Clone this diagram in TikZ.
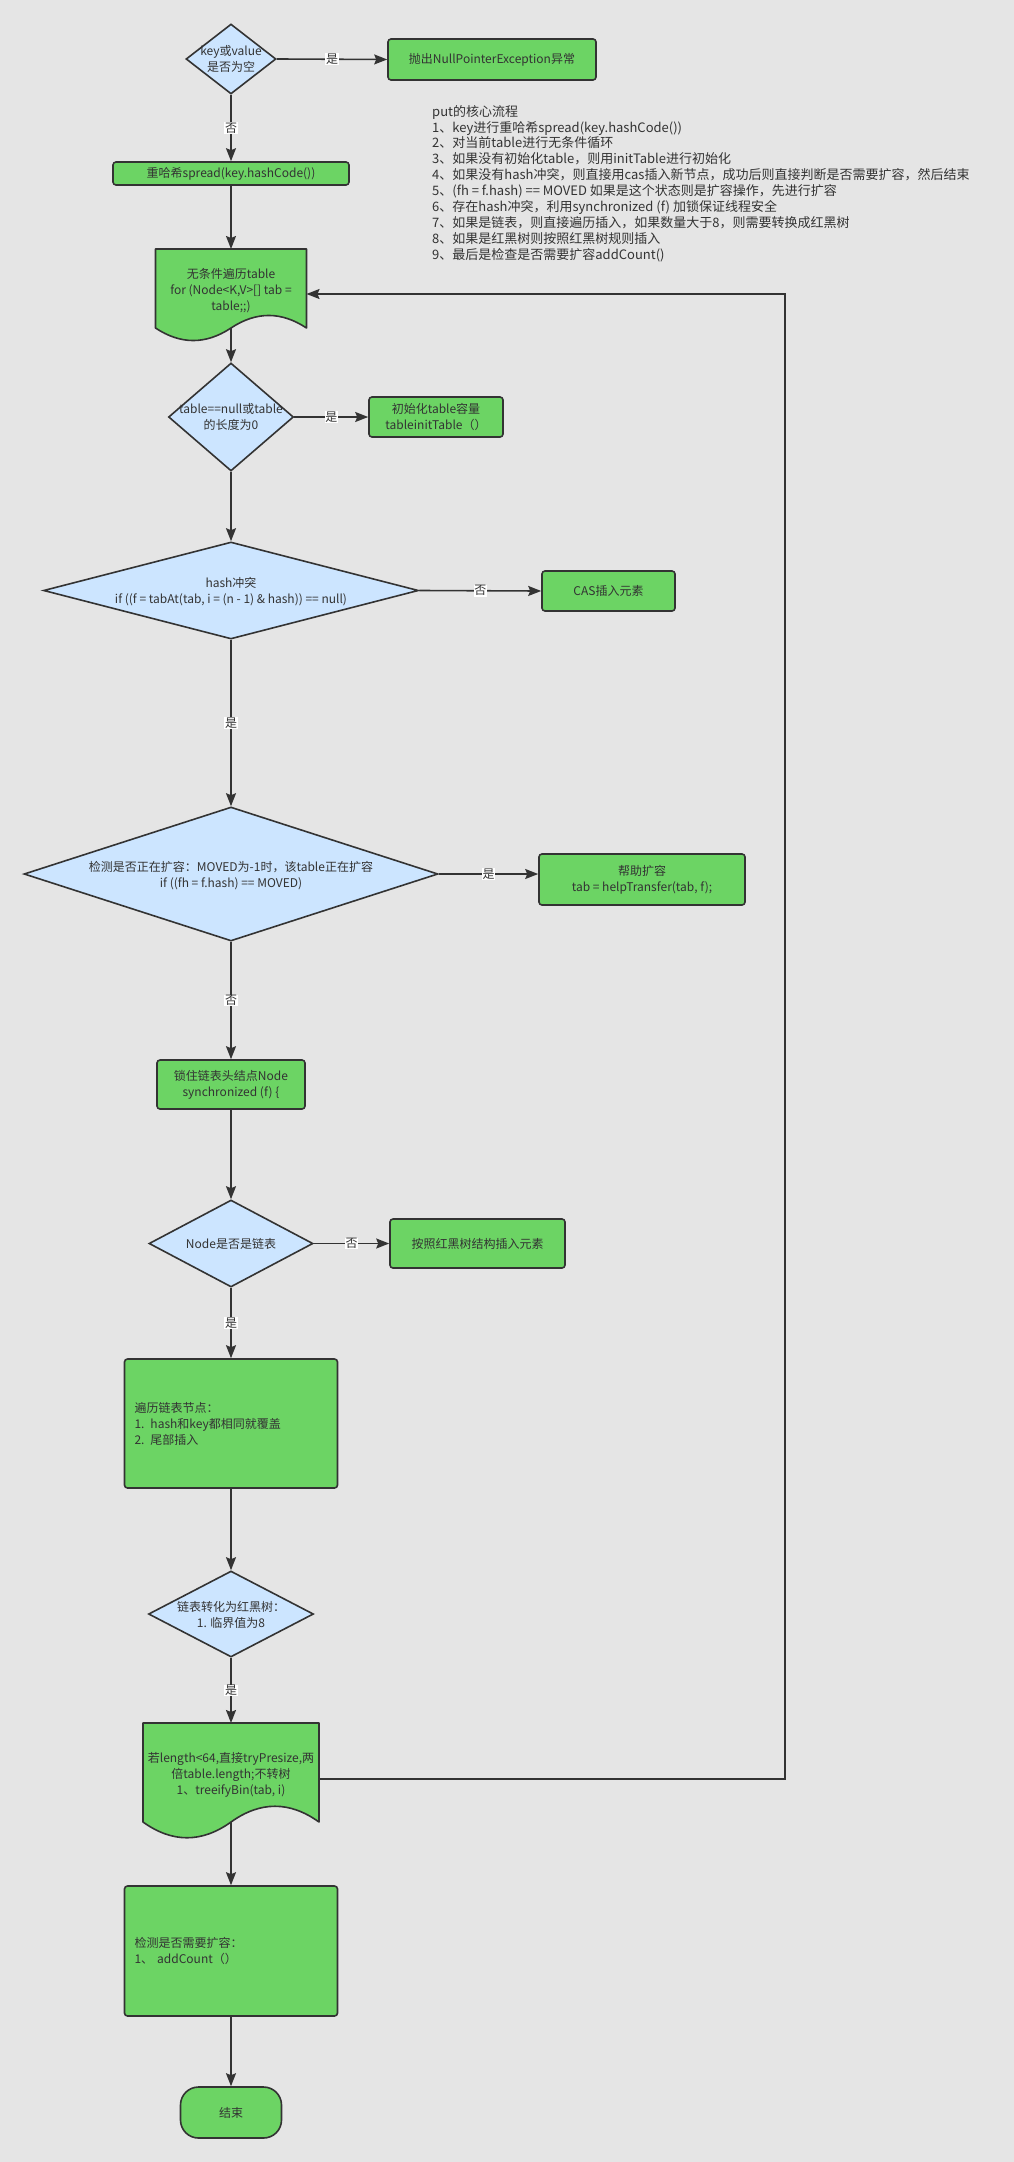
\documentclass[tikz,border=0pt]{standalone}
\usepackage{fontspec}
\setmainfont{Noto Sans CJK SC}
\usetikzlibrary{shapes.geometric, arrows.meta}
\definecolor{bg}{HTML}{E5E5E5}
\definecolor{boxgreen}{HTML}{6CD464}
\definecolor{diablue}{HTML}{CCE5FF}
\definecolor{linec}{HTML}{333333}
\definecolor{txt}{HTML}{333333}
\tikzset{
  every node/.style={text=txt},
  box/.style={draw=linec, fill=boxgreen, line width=1.6pt, rounded corners=3pt,
    font=\fontsize{12}{16}\selectfont, align=center, inner sep=2pt},
  dia/.style={draw=linec, fill=diablue, diamond, line width=1.6pt, inner sep=0pt},
  dtext/.style={font=\fontsize{12}{16}\selectfont, align=center, inner sep=0pt},
  docsty/.style={draw=linec, fill=boxgreen, line width=1.6pt, line join=round},
  lbl/.style={fill=white, inner sep=0.6pt, font=\fontsize{12}{14}\selectfont},
  arr/.style={draw=linec, line width=1.6pt, -{Stealth[length=13pt,width=10pt,inset=2pt]}},
}
\begin{document}
\begin{tikzpicture}[x=1pt, y=-1pt]
\useasboundingbox (0,0) rectangle (1014,2162);
\fill[bg] (0,0) rectangle (1014,2162);

% --- nodes ---
\node[dia, minimum width=90, minimum height=70] (d1) at (231,59) {};
\node[dtext] (d1t) at (231,59) {key或value\\是否为空};
\node[box, minimum width=208, minimum height=41] (npe) at (492,59.5) {抛出NullPointerException异常};
\node[box, minimum width=236, minimum height=23, inner sep=0pt] (spread) at (231,173.5) {重哈希spread(key.hashCode())};

% notes
\node[anchor=north west, align=left, inner sep=0pt, font=\fontsize{13}{15.9}\selectfont] (notes) at (432,105) {put的核心流程\\
1、key进行重哈希spread(key.hashCode())\\
2、对当前table进行无条件循环\\
3、如果没有初始化table，则用initTable进行初始化\\
4、如果没有hash冲突，则直接用cas插入新节点，成功后则直接判断是否需要扩容，然后结束\\
5、(fh = f.hash) == MOVED 如果是这个状态则是扩容操作，先进行扩容\\
6、存在hash冲突，利用synchronized (f) 加锁保证线程安全\\
7、如果是链表，则直接遍历插入，如果数量大于8，则需要转换成红黑树\\
8、如果是红黑树则按照红黑树规则插入\\
9、最后是检查是否需要扩容addCount()};

% document shape 1
\draw[docsty] (155.5,249) -- (306.5,249) -- (306.5,328) .. controls (281.3,311.3) and (256.2,311.3) .. (231,328) .. controls (205.8,344.7) and (180.7,344.7) .. (155.5,328) -- cycle;
\coordinate (doc1n) at (231,249);
\coordinate (doc1s) at (231,328);
\coordinate (doc1e) at (306.5,294);
\node[dtext] (doc1) at (231,291) {无条件遍历table\\for (Node<K,V>[] tab =\\table;;)};

\node[dia, minimum width=125, minimum height=108] (d2) at (231,417) {};
\node[dtext] (d2t) at (231,417) {table==null或table\\的长度为0};
\node[box, minimum width=134, minimum height=40] (init) at (436,417) {初始化table容量\\tableinitTable（）};

\node[dia, minimum width=375, minimum height=97] (d3) at (231,590.5) {};
\node[dtext] (d3t) at (231,592) {hash冲突\\if ((f = tabAt(tab, i = (n - 1) \& hash)) == null)};
\node[box, minimum width=133, minimum height=40] (cas) at (608.5,591) {CAS插入元素};

\node[dia, minimum width=414, minimum height=134] (d4) at (231,874) {};
\node[dtext] (d4t) at (231,876) {检测是否正在扩容：MOVED为-1时，该table正在扩容\\if ((fh = f.hash) == MOVED)};
\node[box, minimum width=206, minimum height=51] (help) at (642,879.5) {帮助扩容\\tab = helpTransfer(tab, f);};

\node[box, minimum width=148, minimum height=49] (lock) at (231,1084.5) {锁住链表头结点Node\\synchronized (f) \{};

\node[dia, minimum width=164, minimum height=87] (d5) at (231,1243.5) {};
\node[dtext] (d5t) at (231,1243.5) {Node是否是链表};
\node[box, minimum width=175, minimum height=49] (rb) at (477.5,1243.5) {按照红黑树结构插入元素};

\node[box, minimum width=213, minimum height=129, text width=193, align=left] (trav) at (231,1423.5) {遍历链表节点：\\1. hash和key都相同就覆盖\\2. 尾部插入};

\node[dia, minimum width=165, minimum height=86] (d6) at (231,1614) {};
\node[dtext] (d6t) at (231,1615) {链表转化为红黑树：\\1. 临界值为8};

% document shape 2
\draw[docsty] (143,1723) -- (319,1723) -- (319,1822) .. controls (289.7,1801) and (260.3,1801) .. (231,1822) .. controls (201.7,1843) and (172.3,1843) .. (143,1822) -- cycle;
\coordinate (doc2n) at (231,1723);
\coordinate (doc2s) at (231,1822);
\coordinate (doc2e) at (319,1779);
\node[dtext] (doc2) at (231,1775) {若length<64,直接tryPresize,两\\倍table.length;不转树\\1、treeifyBin(tab, i)};

\node[box, minimum width=213, minimum height=130, text width=193, align=left] (check) at (231,1951) {检测是否需要扩容：\\1、 addCount（）};

\node[box, minimum width=101, minimum height=51, rounded corners=18pt] (end) at (231,2112.5) {结束};

% loop turn points
\coordinate (loopA) at (785,1779);
\coordinate (loopB) at (785,294);

% --- connectors ---
\draw[arr] (d1.east) -- node[lbl] {是} (npe.west);
\draw[arr] (d1.south) -- node[lbl] {否} (spread.north);
\draw[arr] (spread.south) -- (doc1n);
\draw[arr] (doc1s) -- (d2.north);
\draw[arr] (d2.east) -- node[lbl] {是} (init.west);
\draw[arr] (d2.south) -- (d3.north);
\draw[arr] (d3.east) -- node[lbl] {否} (cas.west);
\draw[arr] (d3.south) -- node[lbl] {是} (d4.north);
\draw[arr] (d4.east) -- node[lbl] {是} (help.west |- d4.east);
\draw[arr] (d4.south) -- node[lbl] {否} (lock.north);
\draw[arr] (lock.south) -- (d5.north);
\draw[arr] (d5.east) -- node[lbl] {否} (rb.west);
\draw[arr] (d5.south) -- node[lbl] {是} (trav.north);
\draw[arr] (trav.south) -- (d6.north);
\draw[arr] (d6.south) -- node[lbl] {是} (doc2n);
\draw[arr] (doc2s) -- (check.north);
\draw[arr] (check.south) -- (end.north);
\draw[arr] (doc2e) -- (loopA) -- (loopB) -- (doc1e);
\end{tikzpicture}
\end{document}
